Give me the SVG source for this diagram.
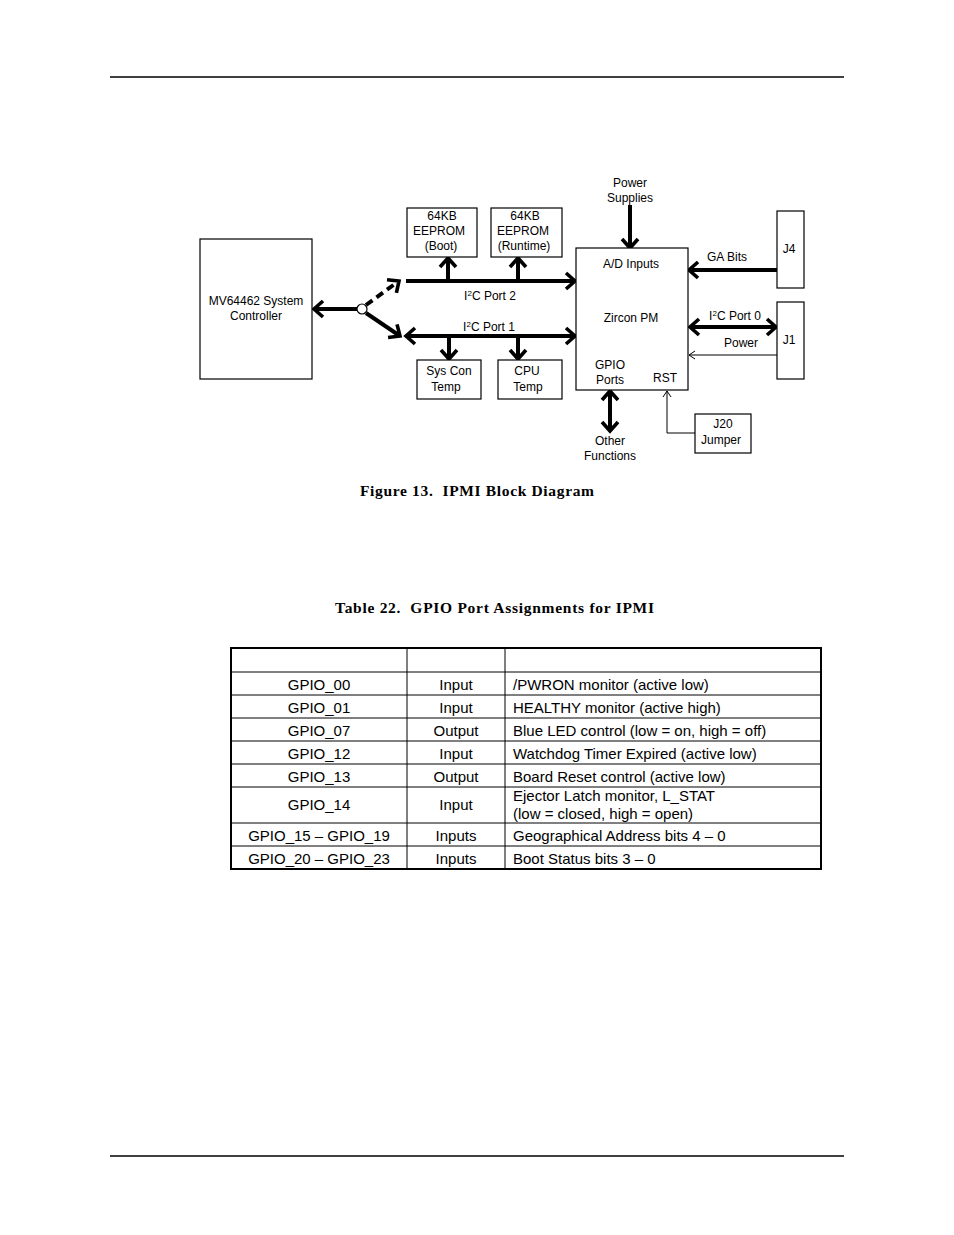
<svg xmlns="http://www.w3.org/2000/svg" width="954" height="1235" viewBox="0 0 954 1235">
<defs>
<marker id="chev" viewBox="-2 -2 14 20" refX="9" refY="8" markerWidth="14" markerHeight="20" markerUnits="userSpaceOnUse" orient="auto-start-reverse">
<path d="M0,0 L9,8 L0,16" fill="none" stroke="#000" stroke-width="3.6"/>
</marker>
<marker id="thin" viewBox="-1 -1 8 10" refX="6" refY="4" markerWidth="8" markerHeight="10" markerUnits="userSpaceOnUse" orient="auto">
<path d="M0,0 L6,4 L0,8" fill="none" stroke="#000" stroke-width="1"/>
</marker>
</defs>
<style>
.box{fill:#fff;stroke:#000;stroke-width:1.2}
.t{font-family:"Liberation Sans",Arial,sans-serif;font-size:12px;fill:#000;text-anchor:middle}
.bus{stroke:#000;stroke-width:4;fill:none}
.th{stroke:#000;stroke-width:1;fill:none}
.cap{font-family:"Liberation Serif","Times New Roman",serif;font-size:15.5px;font-weight:bold;fill:#000;white-space:pre}
.tt{font-family:"Liberation Sans",Arial,sans-serif;font-size:15px;fill:#000}
.c{text-anchor:middle}
.grid{stroke:#000;stroke-width:1;fill:none}
</style>
<rect width="954" height="1235" fill="#fff"/>
<line x1="110" y1="77" x2="844" y2="77" stroke="#000" stroke-width="1.3"/>
<line x1="110" y1="1156" x2="844" y2="1156" stroke="#000" stroke-width="1.3"/>

<g id="connectors">
<line class="bus" x1="357" y1="309" x2="314" y2="309" marker-end="url(#chev)"/>
<line class="bus" x1="366" y1="305" x2="399" y2="281" stroke-dasharray="8,5" marker-end="url(#chev)"/>
<line class="bus" x1="366" y1="313" x2="400" y2="336" marker-end="url(#chev)"/>
<line class="bus" x1="406" y1="281" x2="575" y2="281" marker-end="url(#chev)"/>
<line class="bus" x1="406" y1="336" x2="575" y2="336" marker-start="url(#chev)" marker-end="url(#chev)"/>
<line class="bus" x1="448" y1="281" x2="448" y2="258" marker-end="url(#chev)"/>
<line class="bus" x1="518" y1="281" x2="518" y2="258" marker-end="url(#chev)"/>
<line class="bus" x1="449" y1="336" x2="449" y2="359" marker-end="url(#chev)"/>
<line class="bus" x1="518" y1="336" x2="518" y2="359" marker-end="url(#chev)"/>
<line class="bus" x1="630" y1="205" x2="630" y2="248" marker-end="url(#chev)"/>
<line class="bus" x1="777" y1="270" x2="689" y2="270" marker-end="url(#chev)"/>
<line class="bus" x1="690" y1="327" x2="776" y2="327" marker-start="url(#chev)" marker-end="url(#chev)"/>
<line class="th" x1="777" y1="355" x2="689" y2="355" marker-end="url(#thin)"/>
<line class="bus" x1="610" y1="391" x2="610" y2="431" marker-start="url(#chev)" marker-end="url(#chev)"/>
<polyline class="th" points="695,433 667,433 667,391" marker-end="url(#thin)"/>
<circle cx="362" cy="309" r="5" fill="#fff" stroke="#000" stroke-width="1.2"/>
</g>

<g id="mv64462">
<rect class="box" x="200" y="239" width="112" height="140"/>
<text class="t" x="256" y="305">MV64462 System</text>
<text class="t" x="256" y="320">Controller</text>
</g>
<g id="eeprom-boot">
<rect class="box" x="407" y="208" width="70" height="49"/>
<text class="t" x="442" y="220">64KB</text>
<text class="t" x="439" y="235">EEPROM</text>
<text class="t" x="441" y="250">(Boot)</text>
</g>
<g id="eeprom-runtime">
<rect class="box" x="491" y="208" width="71" height="49"/>
<text class="t" x="525" y="220">64KB</text>
<text class="t" x="523" y="235">EEPROM</text>
<text class="t" x="524" y="250">(Runtime)</text>
</g>
<g id="syscon-temp">
<rect class="box" x="417" y="360" width="64" height="39"/>
<text class="t" x="449" y="375">Sys Con</text>
<text class="t" x="446" y="391">Temp</text>
</g>
<g id="cpu-temp">
<rect class="box" x="498" y="360" width="64" height="39"/>
<text class="t" x="527" y="375">CPU</text>
<text class="t" x="528" y="391">Temp</text>
</g>
<g id="zircon">
<rect class="box" x="576" y="248" width="112" height="142"/>
<text class="t" x="631" y="268">A/D Inputs</text>
<text class="t" x="631" y="322">Zircon PM</text>
<text class="t" x="610" y="369">GPIO</text>
<text class="t" x="610" y="384">Ports</text>
<text class="t" x="665" y="382">RST</text>
</g>
<g id="j4">
<rect class="box" x="777" y="211" width="27" height="77"/>
<text class="t" x="789" y="253">J4</text>
</g>
<g id="j1">
<rect class="box" x="777" y="302" width="27" height="77"/>
<text class="t" x="789" y="344">J1</text>
</g>
<g id="j20">
<rect class="box" x="695" y="414" width="56" height="39"/>
<text class="t" x="723" y="428">J20</text>
<text class="t" x="721" y="444">Jumper</text>
</g>
<g id="labels">
<text class="t" x="630" y="187">Power</text>
<text class="t" x="630" y="202">Supplies</text>
<text class="t" x="727" y="261">GA Bits</text>
<text class="t" x="735" y="320">I<tspan font-size="8" dy="-4">2</tspan><tspan dy="4">C Port 0</tspan></text>
<text class="t" x="741" y="347">Power</text>
<text class="t" x="490" y="300">I<tspan font-size="8" dy="-4">2</tspan><tspan dy="4">C Port 2</tspan></text>
<text class="t" x="489" y="331">I<tspan font-size="8" dy="-4">2</tspan><tspan dy="4">C Port 1</tspan></text>
<text class="t" x="610" y="445">Other</text>
<text class="t" x="610" y="460">Functions</text>
</g>

<text class="cap" x="360" y="496" textLength="234" lengthAdjust="spacing">Figure 13.  IPMI Block Diagram</text>
<text class="cap" x="335" y="613" textLength="319" lengthAdjust="spacing">Table 22.  GPIO Port Assignments for IPMI</text>

<g id="table">
<rect x="231" y="648" width="590" height="221" fill="none" stroke="#000" stroke-width="2"/>
<path class="grid" d="M407,648V869 M505,648V869 M231,672H821 M231,695H821 M231,718H821 M231,741H821 M231,764H821 M231,787H821 M231,823H821 M231,846H821"/>
<g class="tt">
<text class="c" x="319" y="690">GPIO_00</text><text class="c" x="456" y="690">Input</text><text x="513" y="690">/PWRON monitor (active low)</text>
<text class="c" x="319" y="713">GPIO_01</text><text class="c" x="456" y="713">Input</text><text x="513" y="713">HEALTHY monitor (active high)</text>
<text class="c" x="319" y="736">GPIO_07</text><text class="c" x="456" y="736">Output</text><text x="513" y="736">Blue LED control (low = on, high = off)</text>
<text class="c" x="319" y="759">GPIO_12</text><text class="c" x="456" y="759">Input</text><text x="513" y="759">Watchdog Timer Expired (active low)</text>
<text class="c" x="319" y="782">GPIO_13</text><text class="c" x="456" y="782">Output</text><text x="513" y="782">Board Reset control (active low)</text>
<text class="c" x="319" y="810">GPIO_14</text><text class="c" x="456" y="810">Input</text><text x="513" y="801">Ejector Latch monitor, L_STAT</text><text x="513" y="819">(low = closed, high = open)</text>
<text class="c" x="319" y="841">GPIO_15 – GPIO_19</text><text class="c" x="456" y="841">Inputs</text><text x="513" y="841">Geographical Address bits 4 – 0</text>
<text class="c" x="319" y="864">GPIO_20 – GPIO_23</text><text class="c" x="456" y="864">Inputs</text><text x="513" y="864">Boot Status bits 3 – 0</text>
</g>
</g>
</svg>
